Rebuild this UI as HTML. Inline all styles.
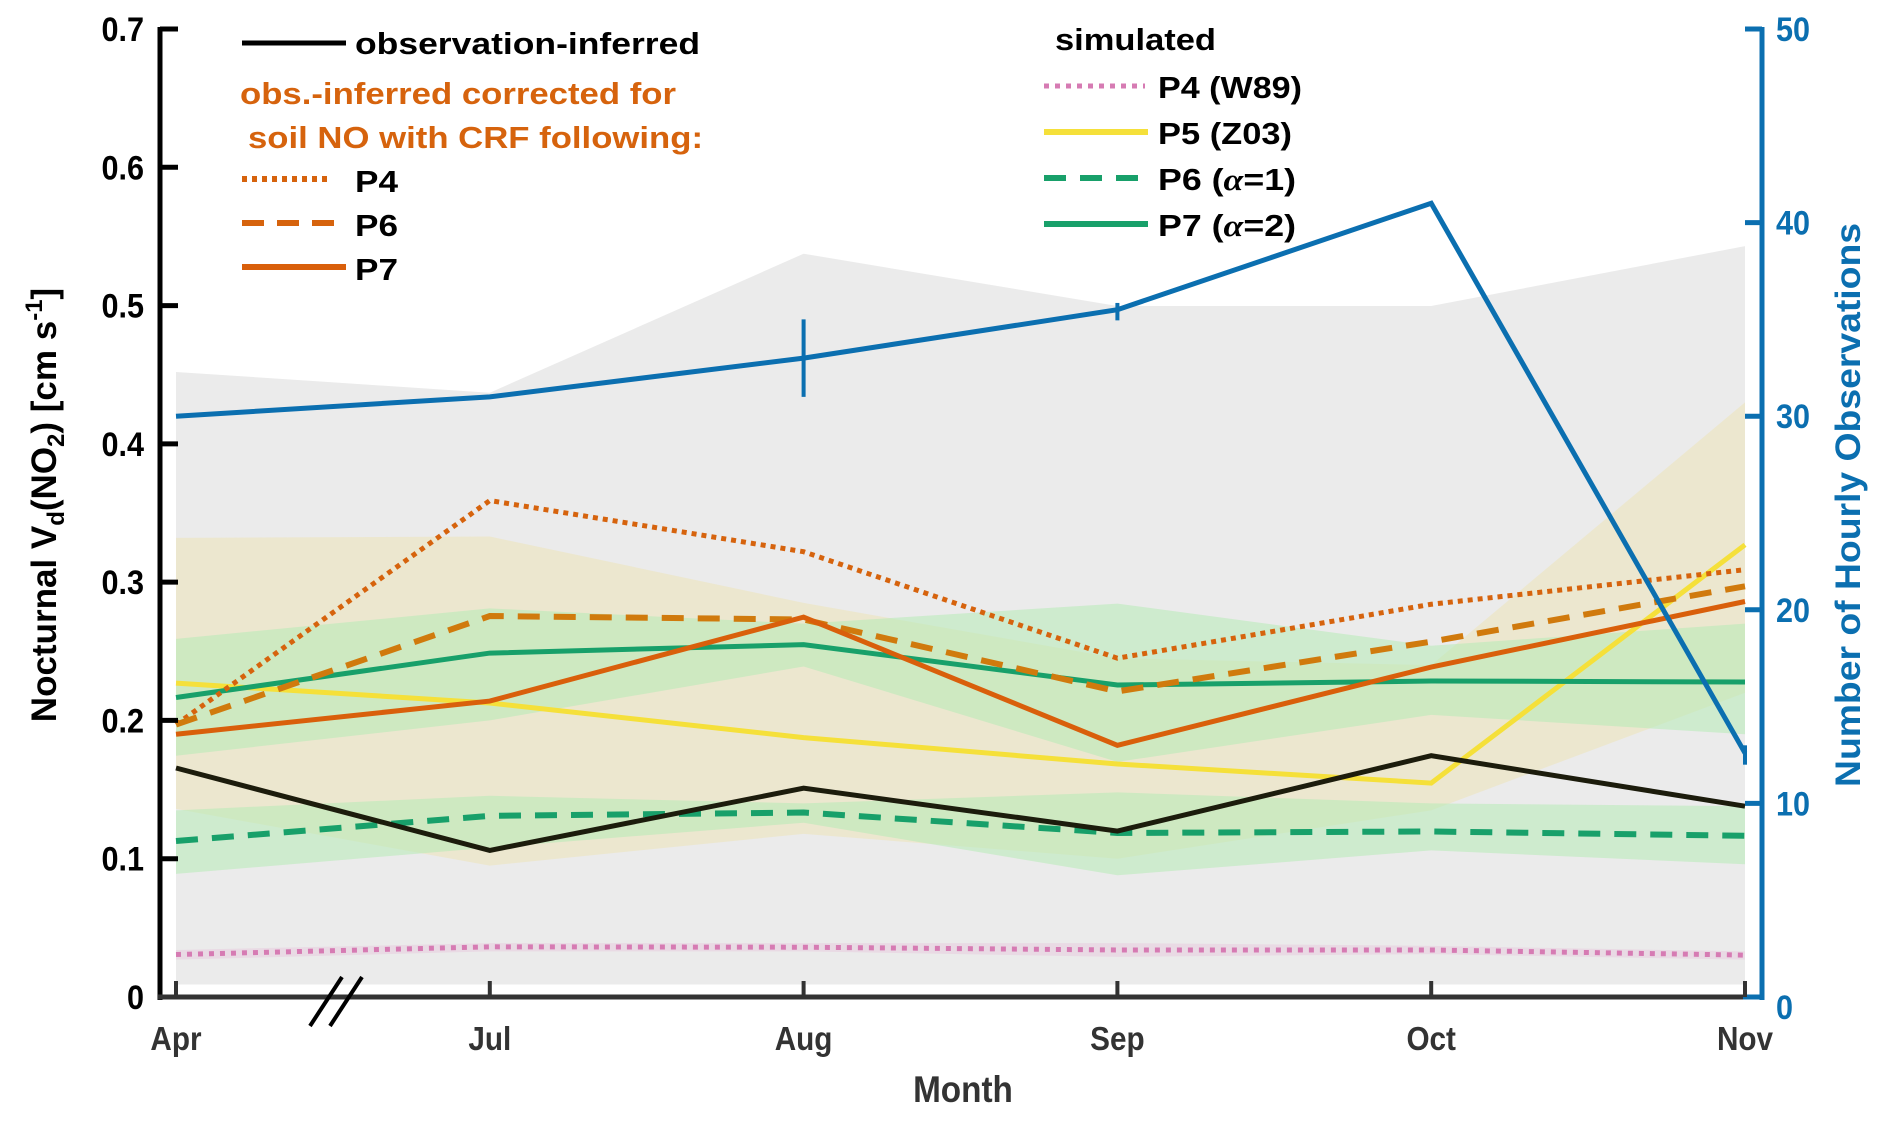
<!DOCTYPE html>
<html><head><meta charset="utf-8"><style>
html,body{margin:0;padding:0;background:#fff;}
svg text{font-family:"Liberation Sans",Arial,sans-serif;font-weight:bold;}
</style></head><body>
<svg id="chart" width="1892" height="1120" viewBox="0 0 1892 1120" xmlns="http://www.w3.org/2000/svg">
<g id="bands"></g>
<g id="lines"></g>
<g id="axes"></g>
<g id="legend"></g>
</svg>
<script>
const months = ["Apr","Jul","Aug","Sep","Oct","Nov"];
const yTicks = [0,0.1,0.2,0.3,0.4,0.5,0.6,0.7];
const yTickLabels = ["0","0.1","0.2","0.3","0.4","0.5","0.6","0.7"];
const y2Ticks = [0,10,20,30,40,50];
const obsInferred = [0.1656,0.106,0.151,0.120,0.1745,0.138];
const corrP4 = [0.197,0.359,0.322,0.245,0.284,0.309];
const corrP6 = [0.197,0.2755,0.273,0.221,0.257,0.297];
const corrP7 = [0.190,0.214,0.2747,0.182,0.2386,0.286];
const simP4 = [0.0307,0.0363,0.036,0.034,0.034,0.0303];
const simP5 = [0.227,0.2126,0.1876,0.1685,0.1547,0.327];
const simP6 = [0.1128,0.131,0.1334,0.1186,0.1197,0.1166];
const simP7 = [0.2166,0.2487,0.2548,0.2256,0.2285,0.2278];
const hourlyCount = [30.0,31.0,33.0,35.5,41.0,12.6];
const hourlyErrLow = [30.0,31.0,31.0,34.95,41.0,12.0];
const hourlyErrHigh = [30.0,31.0,35.0,35.85,41.0,13.0];
const grayUpper = [0.452,0.437,0.5375,0.4997,0.4997,0.543];
const grayLower = [0.009,0.009,0.009,0.009,0.009,0.009];
const p5Upper = [0.332,0.333,0.285,0.245,0.24,0.43];
const p5Lower = [0.136,0.095,0.118,0.10,0.135,0.22];
const p7Upper = [0.259,0.281,0.27,0.2845,0.254,0.27];
const p7Lower = [0.1745,0.20,0.239,0.17,0.204,0.19];
const p6Upper = [0.135,0.1455,0.14,0.148,0.14,0.138];
const p6Lower = [0.089,0.108,0.126,0.088,0.106,0.096];
const p4Upper = [0.034,0.039,0.039,0.039,0.037,0.033];
const p4Lower = [0.027,0.033,0.033,0.029,0.031,0.027];

const NS="http://www.w3.org/2000/svg";
const X0=176, X1=1745, Y0=997, Y7=29;
function xs(i){return X0+(X1-X0)*i/(months.length-1);}
function ys(v){return Y0-(Y0-Y7)*v/0.7;}
function ys2(v){return Y0-(Y0-Y7)*v/50;}
function mk(tag,attrs,parent){const e=document.createElementNS(NS,tag);for(const k in attrs)e.setAttribute(k,attrs[k]);parent.appendChild(e);return e;}
const bands=document.getElementById('bands'),lines=document.getElementById('lines'),axes=document.getElementById('axes'),legend=document.getElementById('legend');

function band(up,lo,fill,op,name){
  let d="M"+up.map((v,i)=>xs(i)+","+ys(v)).join(" L");
  d+=" L"+lo.map((v,i)=>xs(i)+","+ys(v)).reverse().join(" L")+" Z";
  const p=mk('path',{d:d,fill:fill,'fill-opacity':op},bands);
  
  
}
band(grayUpper,grayLower,'#ebebeb',1,'obs-range-band');
band(p5Upper,p5Lower,'#ece6c6',0.75,'p5-range-band');
band(p7Upper,p7Lower,'#b6ebb6',0.55,'p7-range-band');
band(p6Upper,p6Lower,'#b6ebb6',0.55,'p6-range-band');
band(p4Upper,p4Lower,'#e8cfe0',0.6,'p4-range-band');

function line(vals,color,w,dash,name,scale){
  const f=scale||ys;
  const p=mk('polyline',{points:vals.map((v,i)=>xs(i)+","+f(v)).join(" "),fill:'none',stroke:color,'stroke-width':w,'stroke-linejoin':'miter'},lines);
  if(dash)p.setAttribute('stroke-dasharray',dash);
  
  
}
line(simP4,'#d67bb3',5,'5 6','sim-p4-line');
line(simP6,'#18a06a',6,'22 14','sim-p6-line');
line(simP5,'#f5e03a',5,null,'sim-p5-line');
line(simP7,'#18a06a',5,null,'sim-p7-line');
line(obsInferred,'#1c1c0c',5,null,'obs-inferred-line');
line(corrP4,'#d6630d',5,'5 5','corr-p4-line');
line(corrP6,'#d07a0d',6,'22 14','corr-p6-line');
line(corrP7,'#d95f0b',5,null,'corr-p7-line');
line(hourlyCount,'#0b6fb0',5,null,'hourly-count-line',ys2);
hourlyCount.forEach((v,i)=>{
  if(hourlyErrHigh[i]-hourlyErrLow[i]>0.01){
    const e=mk('line',{x1:xs(i),x2:xs(i),y1:ys2(hourlyErrLow[i]),y2:ys2(hourlyErrHigh[i]),stroke:'#0b6fb0','stroke-width':4},lines);
    
    
  }
});

let a=mk('line',{x1:160,y1:27,x2:160,y2:1000,stroke:'#000','stroke-width':5},axes);

a=mk('line',{x1:158,y1:997,x2:1745,y2:997,stroke:'#333','stroke-width':5},axes);

a=mk('line',{x1:1762,y1:27,x2:1762,y2:1000,stroke:'#0b6fb0','stroke-width':5},axes);

mk('line',{x1:1743,y1:997,x2:1764,y2:997,stroke:'#0b6fb0','stroke-width':5},axes);
yTicks.forEach((v,i)=>{
  if(i>0)mk('line',{x1:160,x2:178,y1:ys(v),y2:ys(v),stroke:'#000','stroke-width':5},axes);
  const t=mk('text',{x:144,y:ys(v)+12,'font-size':34,'text-anchor':'end',fill:'#000',transform:`translate(144,0) scale(0.9,1) translate(-144,0)`},axes);
  t.textContent=yTickLabels[i];
  
  
});
y2Ticks.forEach(v=>{
  if(v>0)mk('line',{x1:1745,x2:1762,y1:ys2(v),y2:ys2(v),stroke:'#0b6fb0','stroke-width':5},axes);
  const t=mk('text',{x:1776,y:ys2(v)+(v===0?22:12),'font-size':34,fill:'#0b6fb0',transform:`translate(1776,0) scale(0.9,1) translate(-1776,0)`},axes);
  t.textContent=String(v);
  
  
});
months.forEach((m,i)=>{
  mk('line',{x1:xs(i),x2:xs(i),y1:997,y2:981,stroke:'#333','stroke-width':4},axes);
  const t=mk('text',{x:xs(i),y:1050,'font-size':33,'text-anchor':'middle',fill:'#333',transform:`translate(${xs(i)},0) scale(0.9,1) translate(${-xs(i)},0)`},axes);
  t.textContent=m;
  
  
});
mk('line',{x1:310,y1:1026,x2:342,y2:977,stroke:'#000','stroke-width':4},axes);
mk('line',{x1:330,y1:1026,x2:362,y2:977,stroke:'#000','stroke-width':4},axes);
</script>
<svg style="position:absolute;left:0;top:0" width="1892" height="1120" viewBox="0 0 1892 1120" xmlns="http://www.w3.org/2000/svg">
<text x="963" y="1102" font-size="37" text-anchor="middle" fill="#333" transform="translate(963,0) scale(0.9,1) translate(-963,0)">Month</text>
<text transform="translate(56,505) rotate(-90)" font-size="35" text-anchor="middle" fill="#000">Nocturnal V<tspan font-size="24" dy="8">d</tspan><tspan dy="-8">(NO</tspan><tspan font-size="24" dy="8">2</tspan><tspan dy="-8">) [cm s</tspan><tspan font-size="24" dy="-14">-1</tspan><tspan dy="14">]</tspan></text>
<text transform="translate(1860,505) rotate(-90)" font-size="35" text-anchor="middle" textLength="564" lengthAdjust="spacingAndGlyphs" fill="#0b6fb0">Number of Hourly Observations</text>
<g>
<line x1="242" y1="43" x2="346" y2="43" stroke="#000" stroke-width="5"/>
<text x="355" y="54" font-size="31" textLength="345" lengthAdjust="spacingAndGlyphs" fill="#000">observation-inferred</text>
<text x="240" y="104" font-size="31" textLength="436" lengthAdjust="spacingAndGlyphs" fill="#d6630d">obs.-inferred corrected for</text>
<text x="248" y="148" font-size="31" textLength="455" lengthAdjust="spacingAndGlyphs" fill="#d6630d">soil NO with CRF following:</text>
<line x1="242" y1="179" x2="330" y2="179" stroke="#d6630d" stroke-width="6" stroke-dasharray="5 5"/>
<text x="355" y="192" font-size="31" textLength="43" lengthAdjust="spacingAndGlyphs">P4</text>
<line x1="242" y1="223" x2="346" y2="223" stroke="#d6630d" stroke-width="6" stroke-dasharray="22 13"/>
<text x="355" y="236" font-size="31" textLength="43" lengthAdjust="spacingAndGlyphs">P6</text>
<line x1="242" y1="267" x2="346" y2="267" stroke="#d95f0b" stroke-width="6"/>
<text x="355" y="280" font-size="31" textLength="43" lengthAdjust="spacingAndGlyphs">P7</text>
</g>
<g>
<text x="1055" y="50" font-size="31" textLength="161" lengthAdjust="spacingAndGlyphs">simulated</text>
<line x1="1044" y1="86" x2="1145" y2="86" stroke="#d67bb3" stroke-width="5" stroke-dasharray="5 6"/>
<text x="1158" y="98" font-size="31" textLength="144" lengthAdjust="spacingAndGlyphs">P4 (W89)</text>
<line x1="1044" y1="132" x2="1148" y2="132" stroke="#f5e03a" stroke-width="6"/>
<text x="1158" y="144" font-size="31" textLength="134" lengthAdjust="spacingAndGlyphs">P5 (Z03)</text>
<line x1="1044" y1="178" x2="1148" y2="178" stroke="#18a06a" stroke-width="6" stroke-dasharray="22 14"/>
<text x="1158" y="190" font-size="31" textLength="138" lengthAdjust="spacingAndGlyphs">P6 (<tspan font-family="Liberation Serif" font-style="italic">α</tspan>=1)</text>
<line x1="1044" y1="224" x2="1148" y2="224" stroke="#18a06a" stroke-width="6"/>
<text x="1158" y="236" font-size="31" textLength="138" lengthAdjust="spacingAndGlyphs">P7 (<tspan font-family="Liberation Serif" font-style="italic">α</tspan>=2)</text>
</g>
</svg>
</body></html>
